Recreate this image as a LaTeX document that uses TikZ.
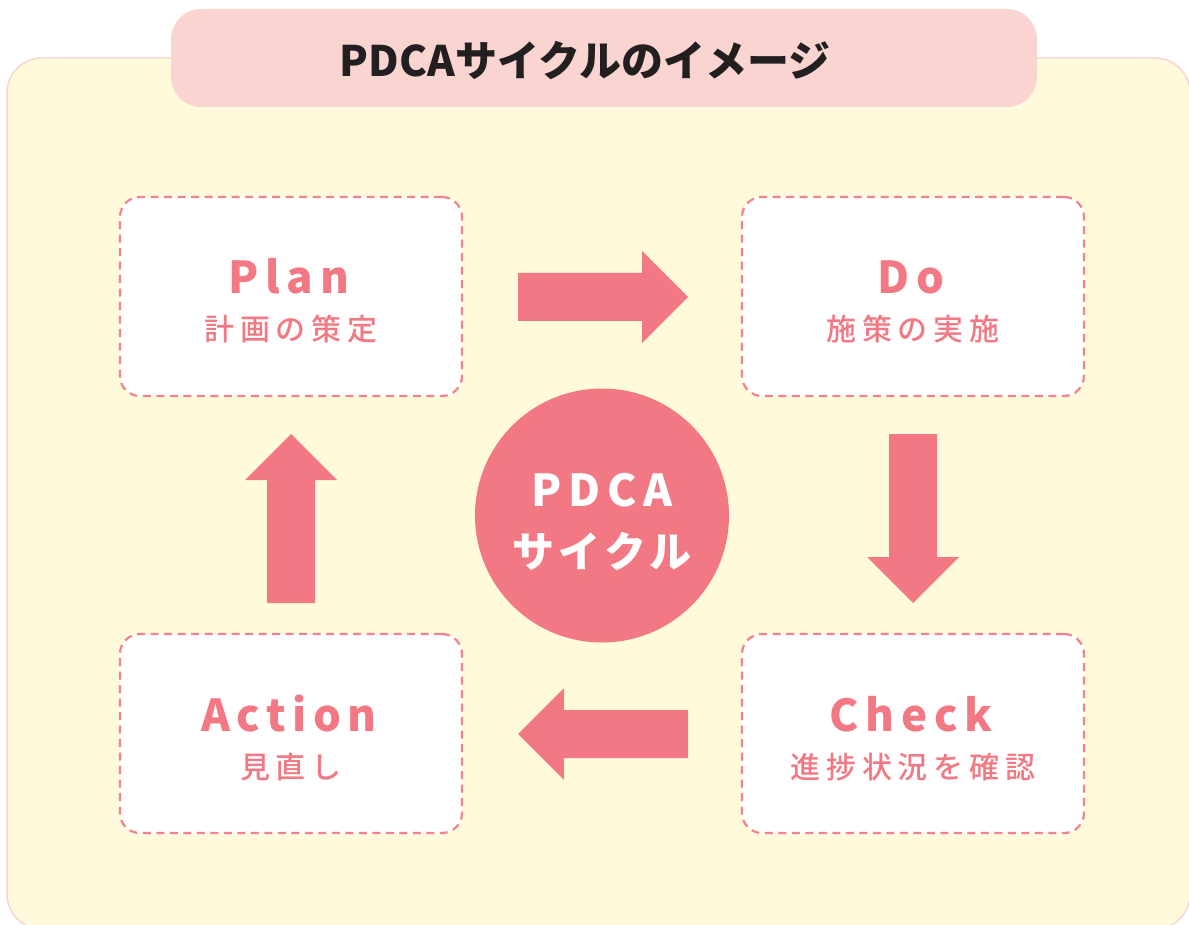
\documentclass[tikz,border=0pt]{standalone}
\usepackage{fontspec}
\setmainfont{Noto Sans CJK JP}
\newfontfamily\jpsp[LetterSpace=15]{Noto Sans CJK JP}
\newfontfamily\jpsub[LetterSpace=19, UprightFont={* Medium}]{Noto Sans CJK JP}
\newfontfamily\jpcirc[LetterSpace=10]{Noto Sans CJK JP}
\definecolor{pinkmain}{HTML}{F27983}
\definecolor{pinkdash}{HTML}{F2828E}
\definecolor{titlefill}{HTML}{FAD4D1}
\definecolor{bgfill}{HTML}{FFFADC}
\definecolor{bgline}{HTML}{FAD4D4}
\definecolor{titletext}{HTML}{231F20}
\begin{document}
\begin{tikzpicture}[x=1pt,y=-1pt,
  stagebox/.style={draw=pinkdash, fill=white, line width=2.2pt, dash pattern=on 8pt off 5.5pt,
    rounded corners=20pt, minimum width=342pt, minimum height=199pt, inner sep=0pt},
  headtext/.style={anchor=base, text=pinkmain, font=\jpsp\bfseries\fontsize{44}{44}\selectfont, inner sep=0pt},
  subtext/.style={anchor=base, text=pinkmain, font=\jpsub\fontsize{30}{30}\selectfont, inner sep=0pt},
  blockarrow/.style={fill=pinkmain, draw=none}
]
\useasboundingbox (0,0) rectangle (1189,925);
% background panel
\draw[fill=bgfill, draw=bgline, line width=1.5pt, rounded corners=35pt] (7,58) rectangle (1190,929);
% title
\node[fill=titlefill, rounded corners=30pt, minimum width=866pt, minimum height=98pt, inner sep=0pt] (titlebox) at (604,58) {};
\node[anchor=base, inner sep=0pt, text=titletext, font=\bfseries\fontsize{42}{42}\selectfont] (title) at (585,77) {PDCAサイクルのイメージ};
% stage boxes
\node[stagebox] (plan) at (291,296.5) {};
\node[stagebox] (do) at (913,296.5) {};
\node[stagebox] (action) at (291,733.5) {};
\node[stagebox] (check) at (913,733.5) {};
\node[headtext] (planh) at (289,294) {Plan};
\node[subtext] (plans) at (291,341) {計画の策定};
\node[headtext] (doh) at (911,294) {Do};
\node[subtext] (dos) at (913,341) {施策の実施};
\node[headtext] (actionh) at (289,731) {Action};
\node[subtext] (actions) at (291,778) {見直し};
\node[headtext] (checkh) at (911,731) {Check};
\node[subtext] (checks) at (913,778) {進捗状況を確認};
% center circle
\node[circle, fill=pinkmain, minimum size=254pt, inner sep=0pt] (cycle) at (602,515.5) {};
\node[anchor=base, inner sep=0pt, text=white, font=\jpsp\bfseries\fontsize{44}{44}\selectfont] (cyclea) at (602,506) {PDCA};
\node[anchor=base, inner sep=0pt, text=white, font=\jpcirc\bfseries\fontsize{42}{42}\selectfont] (cycleb) at (602,567) {サイクル};
% block arrows
\fill[blockarrow] (518,273) -- (642,273) -- (642,251) -- (688,297) -- (642,343) -- (642,321) -- (518,321) -- cycle;
\fill[blockarrow] (889,434) -- (937,434) -- (937,557) -- (959,557) -- (913,603) -- (867,557) -- (889,557) -- cycle;
\fill[blockarrow] (688,710) -- (564,710) -- (564,688) -- (518,734) -- (564,780) -- (564,758) -- (688,758) -- cycle;
\fill[blockarrow] (267,603) -- (315,603) -- (315,480) -- (337,480) -- (291,434) -- (245,480) -- (267,480) -- cycle;
\end{tikzpicture}
\end{document}
